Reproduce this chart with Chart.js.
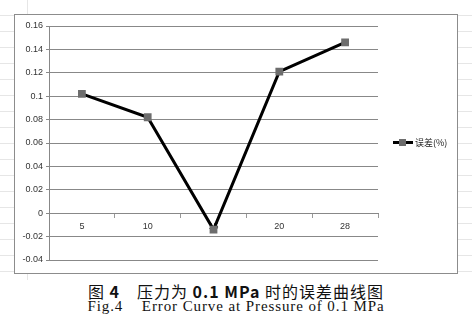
<!DOCTYPE html>
<html>
<head>
<meta charset="utf-8">
<script src="https://cdn.jsdelivr.net/npm/chart.js@4.4.1/dist/chart.umd.min.js"></script>
<style>
  html, body { margin: 0; padding: 0; }
  body {
    width: 472px; height: 322px; position: relative; overflow: hidden; background: #fff;
    background-image:
      repeating-linear-gradient(to bottom, transparent 0, transparent 15px, #e6e6e6 15px, #e6e6e6 16px),
      linear-gradient(to right, transparent 27px, #e6e6e6 27px, #e6e6e6 28px, transparent 28px);
    background-size: 472px 280px, 472px 280px;
    background-repeat: no-repeat;
  }
  #box {
    position: absolute; left: 14px; top: 14px; width: 442px; height: 258px;
    border: 1px solid #8c8c8c; background: #fff;
  }
  #box canvas { position: absolute; left: 0; top: 0; }
  #legend {
    position: absolute; left: 378px; top: 121px; font: 9px "Noto Sans CJK SC", sans-serif; color: #222;
    display: flex; align-items: center;
  }
  #legend .mk { position: relative; width: 20px; height: 9px; margin-right: 2px; }
  #legend .mk:before { content: ""; position: absolute; left: 0; right: 0; top: 3px; height: 3px; background: #000; }
  #legend .mk:after { content: ""; position: absolute; left: 6px; top: 1px; width: 7px; height: 7px; background: #6d6d6d; }
  .cap { position: absolute; left: 0; width: 472px; text-align: center; color: #111; white-space: pre; }
  #cap1 { top: 279px; font: 16px "Noto Sans CJK SC", serif; letter-spacing: 1px; }
  #cap2 { top: 298px; font: 15px "Liberation Serif", serif; letter-spacing: 0.9px; }
</style>
</head>
<body>
<div id="box">
  <canvas id="errChart" width="442" height="258"></canvas>
  <div id="legend"><span class="mk"></span><span>误差(%)</span></div>
</div>
<div class="cap" id="cap1">图 <b>4</b>　压力为 <b>0.1 MPa</b> 时的误差曲线图</div>
<div class="cap" id="cap2">Fig.4    Error Curve at Pressure of 0.1 MPa</div>

<script>
const categories = ["5", "10", "15", "20", "28"];
const errorValues = [0.102, 0.082, -0.014, 0.121, 0.146];
const yMin = -0.04;
const yMax = 0.16;
const yStep = 0.02;

const ctx = document.getElementById("errChart").getContext("2d");

new Chart(ctx, {
    type: "line",
    data: {
        labels: categories,
        datasets: [{
            label: "误差(%)",
            data: errorValues,
            borderColor: "#000",
            borderWidth: 3,
            pointStyle: "rect",
            pointRadius: 5.5,
            pointBackgroundColor: "#6d6d6d",
            pointBorderColor: "#6d6d6d",
            pointBorderWidth: 0,
            tension: 0
        }]
    },
    options: {
        responsive: false,
        animation: false,
        layout: { padding: { top: 11, bottom: 13, right: 79, left: 0 } },
        plugins: {
            legend: { display: false },
            tooltip: { enabled: false }
        },
        scales: {
            x: {
                position: { y: 0 },
                offset: true,
                grid: { display: true, drawOnChartArea: false, drawTicks: true, tickLength: 4, offset: true, color: "#999" },
                border: { color: "#888" },
                ticks: { color: "#333", font: { family: "Liberation Sans", size: 9 }, padding: 4 }
            },
            y: {
                min: yMin,
                max: yMax,
                grid: { color: "#888", tickLength: 3 },
                border: { color: "#888" },
                ticks: {
                    stepSize: yStep,
                    color: "#333",
                    padding: 3,
                    font: { family: "Liberation Sans", size: 9 },
                    callback: v => String(Number(v.toFixed(2)))
                },
                afterFit: scale => { scale.width = 34; }
            }
        }
    }
});
</script>
</body>
</html>
